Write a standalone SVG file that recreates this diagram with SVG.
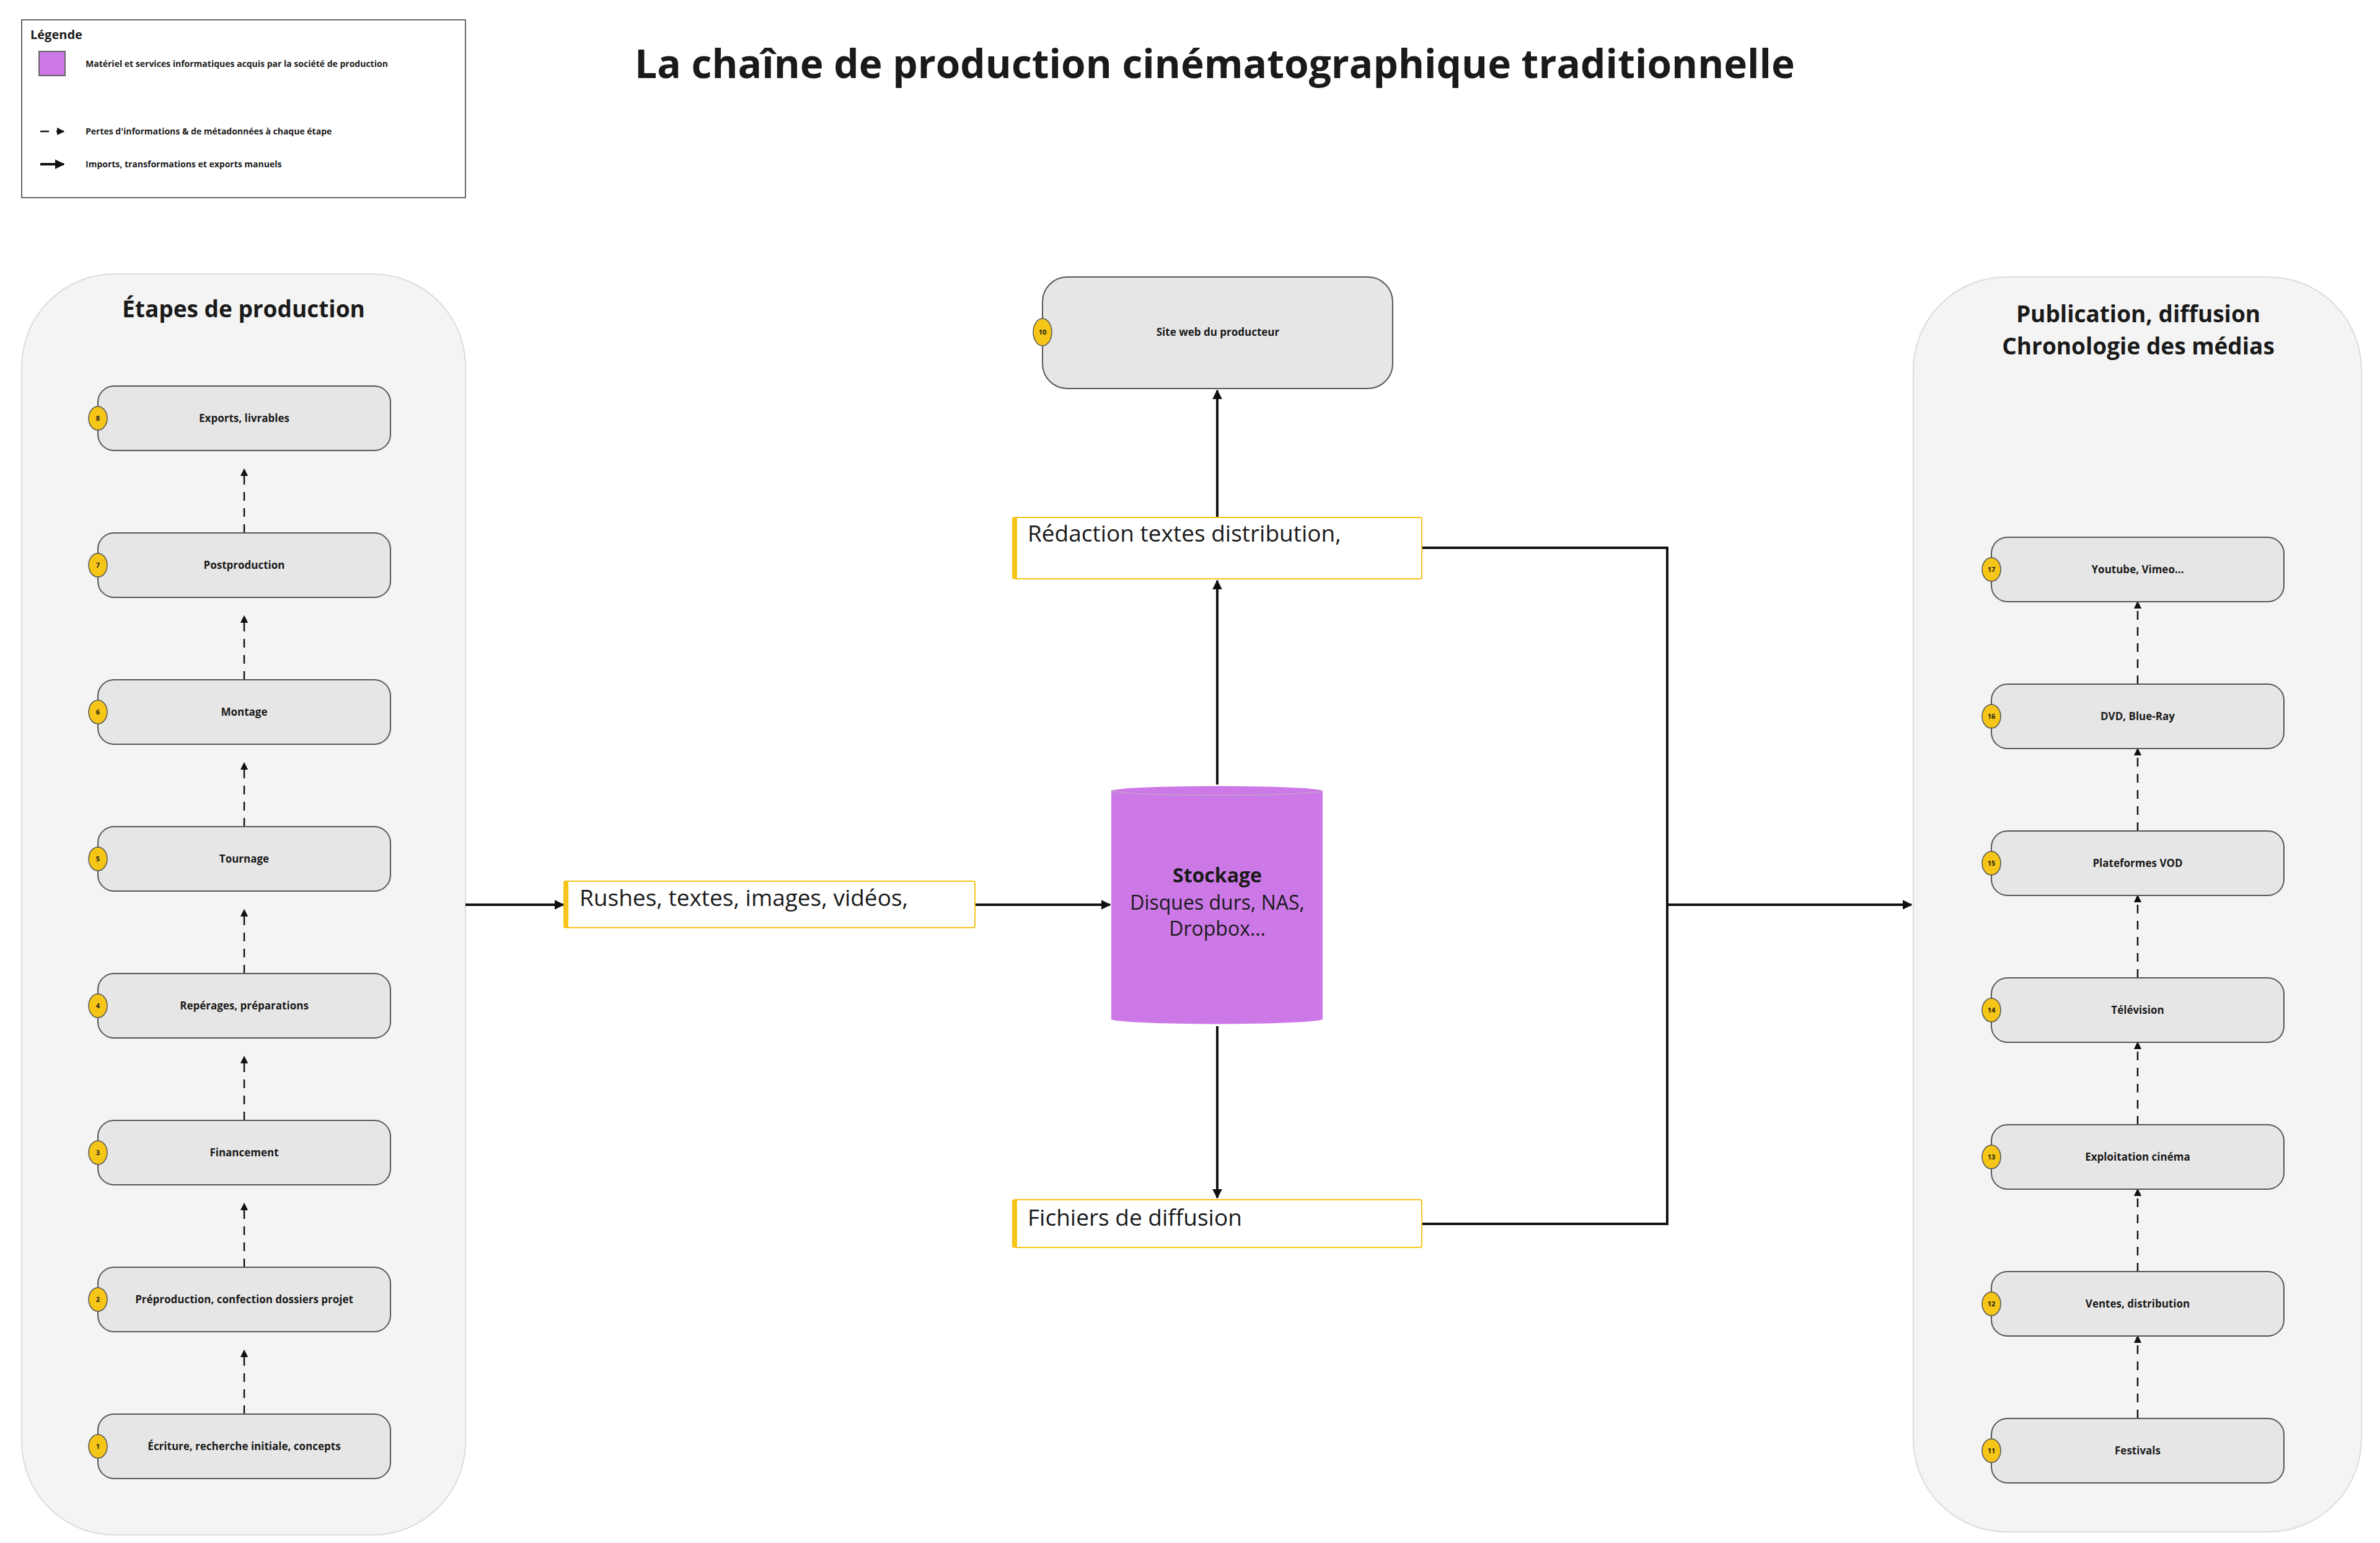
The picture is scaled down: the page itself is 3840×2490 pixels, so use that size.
<svg xmlns="http://www.w3.org/2000/svg" width="3840" height="2490" viewBox="0 0 3840 2490">
<style>
text{font-family:"Open Sans","Noto Sans","Liberation Sans",sans-serif;fill:#1a1a1a}
.b{font-weight:bold}
.cont{fill:#f4f4f4;stroke:#dcdcdc;stroke-width:2}
.node{fill:#e6e6e6;stroke:#555;stroke-width:2}
.badge{fill:#f5c518;stroke:#555;stroke-width:1.5}
.bt{font-size:11px;font-weight:bold;text-anchor:middle}
.nt{font-size:17px;font-weight:bold;text-anchor:middle}
.lbl{fill:#fff;stroke:#f5c518;stroke-width:2}
.bar{fill:#f5c518}
.lt{font-size:37px}
.c{fill:none;stroke:#111;stroke-width:4}
.d{fill:none;stroke:#111;stroke-width:2.5;stroke-dasharray:14 12}
</style>
<defs>
<marker id="a" viewBox="0 0 10 10" refX="9" refY="5" markerWidth="4" markerHeight="4" orient="auto"><path d="M0,0L10,5L0,10z" fill="#111"/></marker>
<marker id="ad" viewBox="0 0 10 10" refX="9" refY="5" markerWidth="5" markerHeight="5" orient="auto"><path d="M0,0L10,5L0,10z" fill="#111"/></marker>
</defs>
<rect width="3840" height="2490" fill="#fff"/>
<g id="legend">
<rect x="35" y="32" width="716" height="287" fill="#fff" stroke="#666" stroke-width="2"/>
<text x="49" y="63" class="b" font-size="20">Légende</text>
<rect x="63" y="83" width="42" height="39" fill="#cc78e6" stroke="#666" stroke-width="2"/>
<text x="138" y="108" class="b" font-size="14">Matériel et services informatiques acquis par la société de production</text>
<line x1="65" y1="212" x2="103" y2="212" class="d" stroke-dasharray="8 8" marker-end="url(#ad)"/>
<text x="138" y="217" class="b" font-size="14">Pertes d'informations &amp; de métadonnées à chaque étape</text>
<line x1="65" y1="265" x2="103" y2="265" class="c" stroke-width="3" marker-end="url(#a)"/>
<text x="138" y="270" class="b" font-size="14">Imports, transformations et exports manuels</text>
</g>
<text x="1960" y="126" class="b" font-size="64" text-anchor="middle">La chaîne de production cinématographique traditionnelle</text>
<g id="etapes">
<rect x="35" y="442" width="716" height="2035" rx="150" class="cont"/>
<text x="393" y="512" class="b" font-size="37" text-anchor="middle">Étapes de production</text>
</g>
<g id="publication">
<rect x="3087" y="447" width="723" height="2025" rx="150" class="cont"/>
<text x="3450" y="520" class="b" font-size="37" text-anchor="middle">Publication, diffusion</text>
<text x="3450" y="572" class="b" font-size="37" text-anchor="middle">Chronologie des médias</text>
</g>
<g id="connectors">
<line x1="394" y1="1571" x2="394" y2="1468" class="d" marker-end="url(#ad)"/>
<line x1="394" y1="1334" x2="394" y2="1231" class="d" marker-end="url(#ad)"/>
<line x1="394" y1="1097" x2="394" y2="994" class="d" marker-end="url(#ad)"/>
<line x1="394" y1="860" x2="394" y2="757" class="d" marker-end="url(#ad)"/>
<line x1="394" y1="2282" x2="394" y2="2179" class="d" marker-end="url(#ad)"/>
<line x1="394" y1="2045" x2="394" y2="1942" class="d" marker-end="url(#ad)"/>
<line x1="394" y1="1808" x2="394" y2="1705" class="d" marker-end="url(#ad)"/>
<line x1="3449" y1="2289" x2="3449" y2="2156" class="d" marker-end="url(#ad)"/>
<line x1="3449" y1="2052" x2="3449" y2="1919" class="d" marker-end="url(#ad)"/>
<line x1="3449" y1="1815" x2="3449" y2="1682" class="d" marker-end="url(#ad)"/>
<line x1="3449" y1="1578" x2="3449" y2="1445" class="d" marker-end="url(#ad)"/>
<line x1="3449" y1="1341" x2="3449" y2="1208" class="d" marker-end="url(#ad)"/>
<line x1="3449" y1="1104" x2="3449" y2="971" class="d" marker-end="url(#ad)"/>
<line x1="751" y1="1460" x2="909" y2="1460" class="c" marker-end="url(#a)"/>
<line x1="1573" y1="1460" x2="1791" y2="1460" class="c" marker-end="url(#a)"/>
<line x1="1964" y1="1266" x2="1964" y2="937" class="c" marker-end="url(#a)"/>
<line x1="1964" y1="835" x2="1964" y2="630" class="c" marker-end="url(#a)"/>
<line x1="1964" y1="1656" x2="1964" y2="1933" class="c" marker-end="url(#a)"/>
<polyline points="2294,884 2690,884 2690,1975 2294,1975" class="c"/>
<line x1="2690" y1="1460" x2="3084" y2="1460" class="c" marker-end="url(#a)"/>
</g>
<g id="n8"><rect x="158" y="623" width="472" height="104" rx="26" class="node"/><ellipse cx="158" cy="675" rx="15" ry="19" class="badge"/><text x="158" y="679" class="bt">8</text><text x="394" y="681" class="nt">Exports, livrables</text></g>
<g id="n7"><rect x="158" y="860" width="472" height="104" rx="26" class="node"/><ellipse cx="158" cy="912" rx="15" ry="19" class="badge"/><text x="158" y="916" class="bt">7</text><text x="394" y="918" class="nt">Postproduction</text></g>
<g id="n6"><rect x="158" y="1097" width="472" height="104" rx="26" class="node"/><ellipse cx="158" cy="1149" rx="15" ry="19" class="badge"/><text x="158" y="1153" class="bt">6</text><text x="394" y="1155" class="nt">Montage</text></g>
<g id="n5"><rect x="158" y="1334" width="472" height="104" rx="26" class="node"/><ellipse cx="158" cy="1386" rx="15" ry="19" class="badge"/><text x="158" y="1390" class="bt">5</text><text x="394" y="1392" class="nt">Tournage</text></g>
<g id="n4"><rect x="158" y="1571" width="472" height="104" rx="26" class="node"/><ellipse cx="158" cy="1623" rx="15" ry="19" class="badge"/><text x="158" y="1627" class="bt">4</text><text x="394" y="1629" class="nt">Repérages, préparations</text></g>
<g id="n3"><rect x="158" y="1808" width="472" height="104" rx="26" class="node"/><ellipse cx="158" cy="1860" rx="15" ry="19" class="badge"/><text x="158" y="1864" class="bt">3</text><text x="394" y="1866" class="nt">Financement</text></g>
<g id="n2"><rect x="158" y="2045" width="472" height="104" rx="26" class="node"/><ellipse cx="158" cy="2097" rx="15" ry="19" class="badge"/><text x="158" y="2101" class="bt">2</text><text x="394" y="2103" class="nt">Préproduction, confection dossiers projet</text></g>
<g id="n1"><rect x="158" y="2282" width="472" height="104" rx="26" class="node"/><ellipse cx="158" cy="2334" rx="15" ry="19" class="badge"/><text x="158" y="2338" class="bt">1</text><text x="394" y="2340" class="nt">Écriture, recherche initiale, concepts</text></g>
<g id="n17"><rect x="3213" y="867" width="472" height="104" rx="26" class="node"/><ellipse cx="3213" cy="919" rx="15" ry="19" class="badge"/><text x="3213" y="923" class="bt">17</text><text x="3449" y="925" class="nt">Youtube, Vimeo…</text></g>
<g id="n16"><rect x="3213" y="1104" width="472" height="104" rx="26" class="node"/><ellipse cx="3213" cy="1156" rx="15" ry="19" class="badge"/><text x="3213" y="1160" class="bt">16</text><text x="3449" y="1162" class="nt">DVD, Blue-Ray</text></g>
<g id="n15"><rect x="3213" y="1341" width="472" height="104" rx="26" class="node"/><ellipse cx="3213" cy="1393" rx="15" ry="19" class="badge"/><text x="3213" y="1397" class="bt">15</text><text x="3449" y="1399" class="nt">Plateformes VOD</text></g>
<g id="n14"><rect x="3213" y="1578" width="472" height="104" rx="26" class="node"/><ellipse cx="3213" cy="1630" rx="15" ry="19" class="badge"/><text x="3213" y="1634" class="bt">14</text><text x="3449" y="1636" class="nt">Télévision</text></g>
<g id="n13"><rect x="3213" y="1815" width="472" height="104" rx="26" class="node"/><ellipse cx="3213" cy="1867" rx="15" ry="19" class="badge"/><text x="3213" y="1871" class="bt">13</text><text x="3449" y="1873" class="nt">Exploitation cinéma</text></g>
<g id="n12"><rect x="3213" y="2052" width="472" height="104" rx="26" class="node"/><ellipse cx="3213" cy="2104" rx="15" ry="19" class="badge"/><text x="3213" y="2108" class="bt">12</text><text x="3449" y="2110" class="nt">Ventes, distribution</text></g>
<g id="n11"><rect x="3213" y="2289" width="472" height="104" rx="26" class="node"/><ellipse cx="3213" cy="2341" rx="15" ry="19" class="badge"/><text x="3213" y="2345" class="bt">11</text><text x="3449" y="2347" class="nt">Festivals</text></g>
<g id="n10"><rect x="1682" y="447" width="565" height="180" rx="40" class="node"/><ellipse cx="1682" cy="536" rx="15" ry="22" class="badge"/><text x="1682" y="540" class="bt">10</text><text x="1965" y="542" class="nt">Site web du producteur</text></g>
<g id="redaction"><rect x="1635" y="835" width="659" height="99" rx="3" class="lbl"/><rect x="1633" y="835" width="8" height="99" class="bar"/><text x="1658" y="874" class="lt">Rédaction textes distribution,</text></g>
<g id="rushes"><rect x="911" y="1422" width="662" height="75" rx="3" class="lbl"/><rect x="909" y="1422" width="8" height="75" class="bar"/><text x="935" y="1462" class="lt">Rushes, textes, images, vidéos,</text></g>
<g id="fichiers"><rect x="1635" y="1936" width="659" height="77" rx="3" class="lbl"/><rect x="1633" y="1936" width="8" height="77" class="bar"/><text x="1658" y="1978" class="lt">Fichiers de diffusion</text></g>
<g id="stockage">
<path d="M1793,1276 A171,8 0 0 1 2134,1276 L2134,1645 A171,8 0 0 1 1793,1645 Z" fill="#cc78e6"/>
<path d="M1793,1276 A171,8 0 0 0 2134,1276" fill="none" stroke="#c49bd0" stroke-width="2"/>
<text x="1964" y="1424" class="b" font-size="32" text-anchor="middle">Stockage</text>
<text x="1964" y="1468" font-size="32" text-anchor="middle">Disques durs, NAS,</text>
<text x="1964" y="1510" font-size="32" text-anchor="middle">Dropbox…</text>
</g>
</svg>
